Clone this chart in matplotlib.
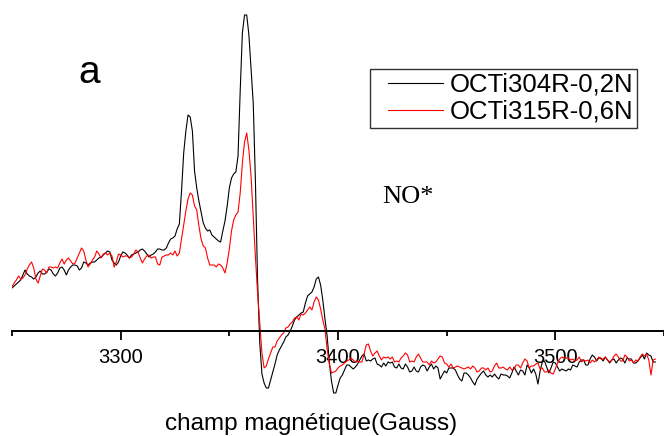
import numpy as np
import matplotlib
matplotlib.use('Agg')
import matplotlib.pyplot as plt

plt.rcParams['font.family'] = ['Liberation Sans', 'DejaVu Sans']

# field in Gauss, 1 G step (instrument sweep)
field = np.arange(3250, 3547, 1)

# EPR signal, arbitrary units
octi304 = [
  43, 45, 47, 49, 51, 56, 61, 57, 55, 54, 52, 54, 58, 60, 57, 57, 59, 62, 61, 57,
  55, 58, 63, 64, 61, 56, 61, 64, 66, 66, 65, 61, 63, 69, 68, 66, 68, 69, 69, 71,
  73, 74, 76, 78, 80, 79, 71, 68, 66, 69, 75, 79, 78, 76, 73, 76, 77, 78, 79, 81,
  82, 80, 77, 74, 76, 77, 79, 82, 82, 81, 81, 83, 88, 92, 93, 95, 102, 107, 140, 178,
  200, 216, 214, 200, 160, 143, 130, 119, 108, 103, 100, 101, 96, 94, 92, 90, 89, 100, 110, 125,
  143, 153, 157, 159, 175, 240, 298, 316, 316, 296, 262, 228, 150, 50, -12, -43, -52, -57, -57, -49,
  -41, -33, -24, -19, -15, -11, -6, -4, 0, 5, 11, 14, 16, 18, 19, 28, 35, 37, 39, 44,
  52, 54, 46, 31, 12, -5, -31, -50, -62, -62, -54, -47, -44, -39, -34, -34, -36, -38, -36, -33,
  -29, -25, -23, -30, -29, -30, -28, -27, -33, -34, -36, -32, -35, -31, -32, -31, -36, -37, -33, -37,
  -38, -33, -36, -41, -40, -36, -40, -41, -36, -34, -35, -40, -36, -33, -38, -35, -37, -48, -44, -40,
  -42, -37, -37, -37, -39, -44, -48, -50, -42, -42, -44, -47, -51, -54, -48, -45, -42, -40, -44, -46,
  -44, -46, -43, -46, -48, -43, -44, -44, -45, -47, -42, -36, -40, -44, -39, -40, -44, -34, -37, -42,
  -38, -43, -53, -40, -31, -30, -36, -42, -37, -31, -32, -36, -40, -38, -39, -40, -38, -39, -34, -35,
  -36, -31, -29, -29, -34, -34, -28, -24, -26, -30, -27, -27, -30, -26, -29, -32, -29, -28, -32, -29,
  -27, -28, -32, -27, -28, -28, -32, -32, -30, -27, -24, -28, -22, -24, -25, -31, -31,
]

octi315 = [
  44, 48, 51, 55, 52, 53, 56, 62, 66, 69, 63, 52, 48, 55, 62, 61, 58, 64, 64, 63,
  64, 63, 68, 72, 67, 71, 73, 70, 67, 68, 73, 78, 83, 80, 71, 64, 67, 71, 74, 80,
  77, 73, 77, 78, 76, 78, 75, 64, 69, 77, 76, 74, 75, 75, 73, 74, 77, 81, 79, 73,
  68, 72, 75, 76, 73, 74, 74, 67, 66, 74, 75, 76, 76, 78, 76, 80, 75, 78, 92, 106,
  120, 132, 138, 136, 125, 121, 105, 92, 85, 83, 73, 66, 66, 66, 64, 67, 66, 63, 58, 68,
  82, 100, 111, 116, 119, 138, 168, 189, 198, 181, 155, 115, 74, 38, 8, -22, -37, -35, -28, -22,
  -16, -16, -10, -7, -4, -2, 3, 4, 7, 9, 13, 14, 11, 17, 16, 18, 21, 24, 21, 29,
  34, 31, 22, 11, 2, -18, -33, -42, -41, -40, -37, -35, -34, -32, -30, -29, -27, -29, -31, -30,
  -31, -31, -23, -14, -13, -20, -25, -22, -20, -25, -29, -26, -27, -26, -28, -26, -31, -30, -31, -27,
  -25, -22, -24, -31, -30, -31, -26, -23, -27, -31, -31, -31, -34, -30, -32, -31, -28, -25, -26, -32,
  -33, -36, -33, -37, -36, -35, -36, -37, -38, -37, -36, -38, -35, -37, -41, -40, -37, -37, -39, -37,
  -41, -40, -35, -32, -37, -37, -36, -38, -39, -36, -39, -38, -34, -34, -37, -32, -28, -30, -37, -35,
  -35, -33, -32, -38, -37, -41, -41, -39, -42, -43, -38, -32, -28, -26, -27, -27, -27, -29, -28, -30,
  -29, -26, -31, -29, -30, -29, -32, -29, -31, -29, -26, -28, -28, -26, -29, -31, -29, -25, -23, -26,
  -30, -30, -24, -26, -30, -29, -32, -29, -30, -26, -23, -25, -23, -29, -44, -29, -28,
]

labels = ['OCTi304R-0,2N', 'OCTi315R-0,6N']

fig = plt.figure(figsize=(6.64, 4.36), dpi=100)
ax = fig.add_axes([12/664, 0, 652/664, 1])

ax.plot(field, octi304, color='black', lw=0.8, label=labels[0])
ax.plot(field, octi315, color='#ff0000', lw=0.8, label=labels[1])

ax.set_xlim(3250, 3547)
ax.set_ylim(-105, 331)

for s in ['left', 'right', 'top']:
  ax.spines[s].set_visible(False)
ax.spines['bottom'].set_position(('data', 0))
ax.spines['bottom'].set_linewidth(1.4)
ax.set_yticks([])
ax.set_xticks([3300, 3400, 3500])
ax.set_xticks([3250, 3350, 3450, 3550], minor=True)
ax.tick_params(axis='x', which='major', direction='out', length=6.5, width=1.3,
               labelsize=14.5, pad=5.5)
ax.tick_params(axis='x', which='minor', direction='out', length=3.5, width=1.3)

leg = ax.legend(loc='upper left', bbox_to_anchor=(370/664, 1 - 69/436),
                bbox_transform=fig.transFigure, fontsize=18.5, frameon=True,
                fancybox=False, edgecolor='black', handlelength=2.69,
                handletextpad=0.27, borderpad=0.15, labelspacing=0.12,
                borderaxespad=0)
leg.get_frame().set_linewidth(1.0)
# legend lines start a little in from the frame
for line in leg.get_lines():
  x = line.get_xdata()
  y = line.get_ydata()
  line.set_xdata([x[0] + 10.2, x[-1]])
  line.set_ydata([y[0], y[0]])

fig.text(311/664, 1 - 430/436, 'champ magnétique(Gauss)', fontsize=17.5,
         ha='center', va='baseline')
fig.text(78/664, 1 - 83/436, 'a', fontsize=28, ha='left', va='baseline')
fig.text(382/664, 1 - 203/436, 'NO*', fontsize=19, family='Liberation Serif',
         ha='left', va='baseline')

fig.savefig('out.png', dpi=100)
